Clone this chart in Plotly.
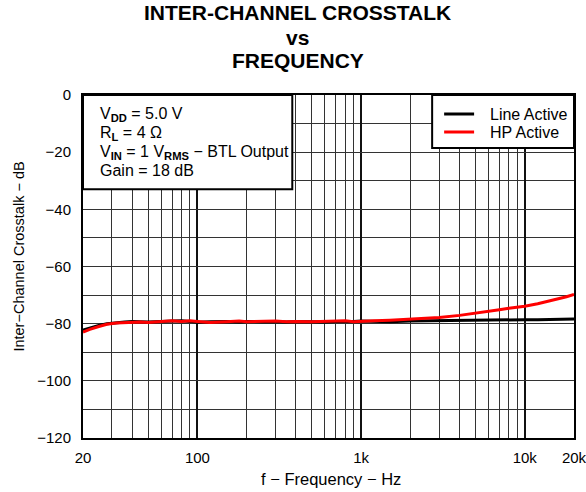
import plotly.graph_objects as go

freq = [20, 22, 25, 28, 32, 36, 40, 45, 50, 60, 70, 80, 90, 100, 120, 150, 180, 200,
        250, 300, 350, 400, 500, 600, 700, 800, 900, 1000, 1200, 1500, 2000, 2500, 3000,
        4000, 5000, 6000, 7000, 8000, 10000, 12000, 15000, 18000, 20000]

line_active = [-82.2, -81.5, -80.6, -80.0, -79.6, -79.4, -79.2, -79.3, -79.4, -79.2, -79.1,
               -79.0, -79.2, -79.5, -79.3, -79.2, -79.4, -79.2, -79.3, -79.2, -79.4, -79.2,
               -79.3, -79.4, -79.2, -79.3, -79.2, -79.1, -79.2, -79.3, -79.1, -79.0, -79.0,
               -78.9, -78.8, -78.8, -78.7, -78.7, -78.6, -78.6, -78.5, -78.4, -78.4]

hp_active = [-83.0, -82.0, -81.0, -80.2, -79.8, -79.6, -79.5, -79.4, -79.6, -79.3, -79.0,
             -79.2, -79.0, -79.2, -79.6, -79.3, -79.1, -79.3, -79.2, -79.1, -79.3, -79.2,
             -79.3, -79.2, -79.3, -79.0, -79.3, -79.1, -79.0, -78.8, -78.4, -78.1, -77.8,
             -77.1, -76.4, -75.7, -75.1, -74.6, -73.9, -73.0, -71.8, -70.6, -69.8]

series_names = ["Line Active", "HP Active"]
series_colors = ["black", "#ff0000"]

x_tickvals = [20, 100, 1000, 10000, 20000]
x_ticktext = ["20", "100", "1k", "10k", "20k"]
x_minor = [30, 40, 50, 60, 70, 80, 90, 200, 300, 400, 500, 600, 700, 800, 900,
           2000, 3000, 4000, 5000, 6000, 7000, 8000, 9000]
y_tickvals = [0, -20, -40, -60, -80, -100, -120]

title_lines = ["INTER-CHANNEL CROSSTALK", "vs", "FREQUENCY"]
condition_lines = ["V<sub><b>DD</b></sub> = 5.0 V",
                   "R<sub><b>L</b></sub> = 4 Ω",
                   "V<sub><b>IN</b></sub> = 1 V<sub><b>RMS</b></sub> − BTL Output",
                   "Gain = 18 dB"]

W, H = 586, 492
L, R, T, B = 82.5, 574, 95, 438
PW, PH = R - L, B - T


def px(x):
    return (x - L) / PW


def py(y):
    return (B - y) / PH


font = "Arial, Liberation Sans, sans-serif"

fig = go.Figure()
for name, vals, col in zip(series_names, [line_active, hp_active], series_colors):
    fig.add_trace(go.Scatter(x=freq, y=vals, mode="lines", name=name,
                             line=dict(color=col, width=3)))

fig.update_layout(
    width=W, height=H,
    margin=dict(l=L, r=W - R, t=T, b=H - B, autoexpand=False),
    paper_bgcolor="white", plot_bgcolor="white",
    font=dict(family=font, size=15, color="black"),
    showlegend=False,
    xaxis=dict(type="log", range=[1.30103, 4.30103],
               tickvals=x_tickvals, ticktext=x_ticktext,
               showgrid=True, gridcolor="#111", gridwidth=2,
               minor=dict(tickvals=x_minor, showgrid=True, gridcolor="#333", gridwidth=1, ticks=""),
               showline=True, linecolor="black", linewidth=2, mirror=True,
               ticks="", zeroline=False, ticklabelstandoff=5, automargin=False,
               ticklabeloverflow="allow", tickfont=dict(size=15)),
    yaxis=dict(range=[-120, 0], tickvals=y_tickvals,
               showgrid=True, gridcolor="#333", gridwidth=1,
               minor=dict(dtick=10, showgrid=True, gridcolor="#333", gridwidth=1, ticks=""),
               showline=True, linecolor="black", linewidth=2, mirror=True,
               ticks="", zeroline=False, ticklabelstandoff=7, automargin=False,
               ticklabeloverflow="allow", tickfont=dict(size=15)),
)

# Title (three centred bold lines)
for txt, cy in zip(title_lines, [12.6, 37.6, 60.6]):
    fig.add_annotation(xref="paper", yref="paper", x=px(297.5), y=py(cy),
                       xanchor="center", yanchor="middle", showarrow=False,
                       text=f"<b>{txt}</b>", font=dict(family=font, size=21, color="black"))

# Axis titles
fig.add_annotation(xref="paper", yref="paper", x=px(331), y=py(479.2),
                   xanchor="center", yanchor="middle", showarrow=False,
                   text="f − Frequency − Hz", font=dict(family=font, size=16.5, color="black"))
fig.add_annotation(xref="paper", yref="paper", x=px(18), y=py(257),
                   xanchor="center", yanchor="middle", showarrow=False, textangle=-90,
                   text="Inter−Channel Crosstalk − dB", font=dict(family=font, size=14.5, color="black"))

# Conditions box
fig.add_shape(type="rect", xref="paper", yref="paper", x0=0, x1=px(292), y0=py(189.3), y1=1,
              line=dict(color="black", width=2), fillcolor="white", layer="above")
for txt, top in zip(condition_lines, [103, 122, 141, 160]):
    fig.add_annotation(xref="paper", yref="paper", x=px(97.5), y=py(top),
                       xanchor="left", yanchor="top", showarrow=False, align="left",
                       text=txt, font=dict(family=font, size=16, color="black"))

# Legend box
fig.add_shape(type="rect", xref="paper", yref="paper", x0=px(432), x1=1, y0=py(148), y1=1,
              line=dict(color="black", width=2), fillcolor="white", layer="above")
for name, col, cy in zip(series_names, series_colors, [114, 132]):
    fig.add_shape(type="line", xref="paper", yref="paper", x0=px(444), x1=px(474),
                  y0=py(cy), y1=py(cy), line=dict(color=col, width=3), layer="above")
    fig.add_annotation(xref="paper", yref="paper", x=px(488), y=py(cy),
                       xanchor="left", yanchor="middle", showarrow=False,
                       text=name, font=dict(family=font, size=16, color="black"))

fig.write_html("out.html", config={"displayModeBar": False},
               post_script="document.body.style.margin='0';document.body.style.overflow='hidden';")
